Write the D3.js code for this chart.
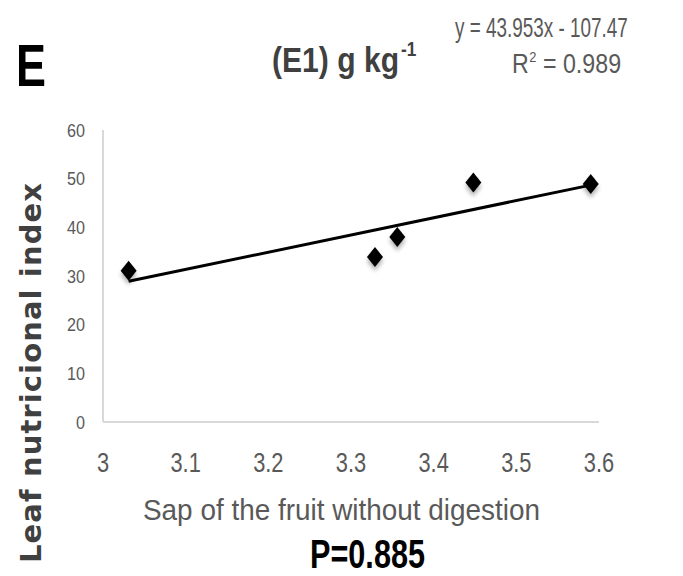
<!DOCTYPE html>
<html>
<head>
<meta charset="utf-8">
<script src="https://cdn.jsdelivr.net/npm/d3@7/dist/d3.min.js"></script>
<style>
  html, body { margin: 0; padding: 0; background: #fff; }
  svg { display: block; }
  text { font-family: "Liberation Sans", Arial, sans-serif; }
</style>
</head>
<body>
<svg id="chart" width="683" height="576"></svg>
<script>
// ---- data ----
const xValues = [3.031, 3.329, 3.356, 3.448, 3.590];
const yValues = [31.1, 33.9, 38.0, 49.2, 48.9];
const xTicks = [3, 3.1, 3.2, 3.3, 3.4, 3.5, 3.6];
const yTicks = [0, 10, 20, 30, 40, 50, 60];
const panelLabel = "E";
const titleText = "(E1) g kg";
const titleSup = "-1";
const equationText = "y = 43.953x - 107.47";
const r2Value = "0.989";
const xTitle = "Sap of the fruit without digestion";
const yTitle = "Leaf nutricional index";
const pText = "P=0.885";

const svg = d3.select("#chart");
const x = d3.scaleLinear().domain([3, 3.6]).range([103, 599]);
const y = d3.scaleLinear().domain([0, 60]).range([422, 130]);

function squeeze(sel, factor) {
  sel.each(function() {
    const w = this.getComputedTextLength();
    d3.select(this).attr("textLength", w * factor).attr("lengthAdjust", "spacingAndGlyphs");
  });
  return sel;
}

// shadow filter for markers
const defs = svg.append("defs");
const f = defs.append("filter").attr("id", "sh").attr("x", "-100%").attr("y", "-100%").attr("width", "300%").attr("height", "300%");
f.append("feGaussianBlur").attr("in", "SourceAlpha").attr("stdDeviation", 2).attr("result", "b");
f.append("feOffset").attr("in", "b").attr("dx", 0).attr("dy", 4).attr("result", "o");
f.append("feComponentTransfer").attr("in", "o").attr("result", "o2")
  .append("feFuncA").attr("type", "linear").attr("slope", 0.3);
const m = f.append("feMerge");
m.append("feMergeNode").attr("in", "o2");
m.append("feMergeNode").attr("in", "SourceGraphic");

// axes lines
svg.append("line").attr("x1", x(3)).attr("x2", x(3)).attr("y1", y(60)).attr("y2", y(0))
  .attr("stroke", "#d9d9d9").attr("stroke-width", 2);
svg.append("line").attr("x1", x(3)).attr("x2", x(3.6)).attr("y1", y(0)).attr("y2", y(0))
  .attr("stroke", "#d9d9d9").attr("stroke-width", 2);

// tick labels
squeeze(svg.selectAll(".yt").data(yTicks).enter().append("text")
  .attr("x", 85).attr("y", d => y(d)).attr("dy", "0.35em")
  .attr("text-anchor", "end").attr("font-size", 19).attr("fill", "#595959")
  .text(d => d), 0.85);
squeeze(svg.selectAll(".xt").data(xTicks).enter().append("text")
  .attr("x", d => x(d)).attr("y", 472)
  .attr("text-anchor", "middle").attr("font-size", 28).attr("fill", "#595959")
  .text(d => d), 0.78);

// trendline (least squares)
const n = xValues.length;
const mx = d3.mean(xValues), my = d3.mean(yValues);
let sxy = 0, sxx = 0;
for (let i = 0; i < n; i++) { sxy += (xValues[i]-mx)*(yValues[i]-my); sxx += (xValues[i]-mx)**2; }
const slope = sxy / sxx, icpt = my - slope * mx;
const x0 = d3.min(xValues), x1 = d3.max(xValues);
svg.append("line")
  .attr("x1", x(x0)).attr("y1", y(slope*x0+icpt))
  .attr("x2", x(x1)).attr("y2", y(slope*x1+icpt))
  .attr("stroke", "#000").attr("stroke-width", 3);

// markers
const pts = xValues.map((v, i) => [v, yValues[i]]);
svg.selectAll(".pt").data(pts).enter().append("path")
  .attr("d", "M0,-10L8,0L0,10L-8,0Z")
  .attr("transform", d => `translate(${x(d[0])},${y(d[1])})`)
  .attr("fill", "#000").attr("filter", "url(#sh)");

// texts
svg.append("text").attr("x", 16).attr("y", 86).attr("font-size", 60).attr("font-weight", "bold")
  .attr("fill", "#000").attr("textLength", 30).attr("lengthAdjust", "spacingAndGlyphs").text(panelLabel);

const tg = svg.append("g").attr("transform", "translate(272,72) scale(0.86,1)");
tg.append("text").attr("x", 0).attr("y", 0).attr("font-size", 35).attr("font-weight", "bold")
  .attr("fill", "#404040").text(titleText);
tg.append("text").attr("x", 150).attr("y", -16).attr("font-size", 20).attr("font-weight", "bold")
  .attr("fill", "#404040").text(titleSup);

// equation block (horizontally condensed via transform)
const eq = svg.append("g").attr("transform", "translate(455,37) scale(0.7,1)");
eq.append("text").attr("x", 0).attr("y", 0)
  .attr("font-size", 27).attr("fill", "#595959").text(equationText);
const r2 = svg.append("g").attr("transform", "translate(512,73) scale(0.86,1)");
r2.append("text").attr("x", 0).attr("y", 0)
  .attr("font-size", 27).attr("fill", "#595959").text("R");
r2.append("text").attr("x", 20).attr("y", -11)
  .attr("font-size", 15).attr("fill", "#595959").text("2");
r2.append("text").attr("x", 36).attr("y", 0)
  .attr("font-size", 27).attr("fill", "#595959").text("= " + r2Value);

svg.append("text").attr("x", 143).attr("y", 520)
  .attr("font-size", 29).attr("fill", "#595959")
  .attr("textLength", 397).attr("lengthAdjust", "spacingAndGlyphs").text(xTitle);
svg.append("text").attr("x", 310).attr("y", 568)
  .attr("font-size", 41).attr("font-weight", "bold").attr("fill", "#000")
  .attr("textLength", 115).attr("lengthAdjust", "spacingAndGlyphs").text(pText);

svg.append("text").attr("transform", "translate(41,563) rotate(-90)")
  .attr("x", 0).attr("y", 0)
  .attr("font-size", 29).attr("font-weight", "bold")
  .attr("fill", "#404040").style("font-family", "'DejaVu Sans', sans-serif")
  .attr("textLength", 380).attr("lengthAdjust", "spacing").text(yTitle);
</script>
</body>
</html>
